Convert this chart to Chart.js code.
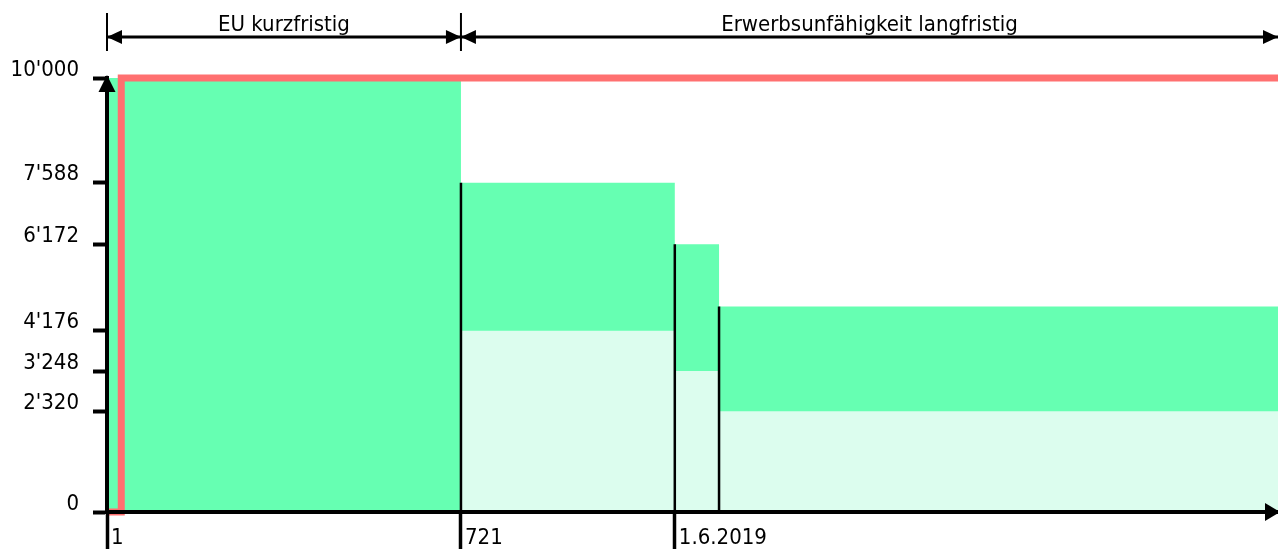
<!DOCTYPE html>
<html>
<head>
<meta charset="utf-8">
<script src="https://cdn.jsdelivr.net/npm/chart.js@4"></script>
<style>
  body { margin: 0; background: #fff; }
  #wrap { width: 1278px; height: 549px; }
</style>
</head>
<body>
<div id="wrap"><canvas id="myChart"></canvas></div>
<script>
'use strict';
// step starts (days) and levels
let stepStart = [1, 721, 1156, 1246];
let xEnd = 2383;
let totalLevel = [10000, 7588, 6172, 4736];
let baseLevel = [0, 4176, 3248, 2320];
let limitStart = 30;
let limitLevel = 10000;

let yTicks = [0, 2320, 3248, 4176, 6172, 7588, 10000];
let xTicks = [1, 721, 1156];
let xTickLabels = ['1', '721', '1.6.2019'];

let spanBounds = [1, 721, xEnd];
let spanLabels = ['EU kurzfristig', 'Erwerbsunfähigkeit langfristig'];

const FONT = "'DejaVu Sans Condensed', 'DejaVu Sans', sans-serif";

function stepPoints(levels) {
  let pts = [];
  for (let i = 0; i < stepStart.length; i++) {
    pts.push({ x: stepStart[i], y: levels[i] });
  }
  pts.push({ x: xEnd, y: levels[levels.length - 1] });
  return pts;
}

let edgePoints = [];
for (let i = 1; i < stepStart.length; i++) {
  edgePoints.push({ x: stepStart[i], y: 0 });
  edgePoints.push({ x: stepStart[i], y: totalLevel[i] });
  edgePoints.push({ x: stepStart[i], y: null });
}

let limitPoints = [
  { x: 1, y: 0 },
  { x: limitStart, y: 0 },
  { x: limitStart, y: limitLevel },
  { x: xEnd, y: limitLevel }
];

function fmt(v) {
  return String(v).replace(/\B(?=(\d{3})+(?!\d))/g, "'");
}

function arrow(ctx, x, y, dir, len, half) {
  ctx.beginPath();
  if (dir === 'left') { ctx.moveTo(x, y); ctx.lineTo(x + len, y - half); ctx.lineTo(x + len, y + half); }
  if (dir === 'right') { ctx.moveTo(x, y); ctx.lineTo(x - len, y - half); ctx.lineTo(x - len, y + half); }
  if (dir === 'up') { ctx.moveTo(x, y); ctx.lineTo(x - half, y + len); ctx.lineTo(x + half, y + len); }
  ctx.closePath();
  ctx.fill();
}

const decorations = {
  id: 'decorations',
  afterDraw(chart) {
    const ctx = chart.ctx;
    const xs = chart.scales.x;
    const area = chart.chartArea;
    ctx.save();
    ctx.fillStyle = '#000';
    ctx.strokeStyle = '#000';
    // axis arrow heads
    arrow(ctx, area.left, area.top - 3, 'up', 17, 8.5);
    arrow(ctx, area.right + 2, area.bottom, 'right', 15, 9);

    // dimension lines on top
    const dimY = 37;
    ctx.lineWidth = 3;
    ctx.beginPath();
    ctx.moveTo(xs.getPixelForValue(spanBounds[0]), dimY);
    ctx.lineTo(xs.getPixelForValue(spanBounds[spanBounds.length - 1]), dimY);
    ctx.stroke();
    ctx.lineWidth = 2;
    for (let i = 0; i < spanBounds.length - 1; i++) {
      let px = xs.getPixelForValue(spanBounds[i]);
      ctx.beginPath();
      ctx.moveTo(px, 13);
      ctx.lineTo(px, 51);
      ctx.stroke();
    }
    ctx.font = '22px ' + FONT;
    ctx.textAlign = 'center';
    ctx.textBaseline = 'alphabetic';
    for (let i = 0; i < spanLabels.length; i++) {
      let a = xs.getPixelForValue(spanBounds[i]);
      let b = xs.getPixelForValue(spanBounds[i + 1]);
      arrow(ctx, a, dimY, 'left', 15, 7);
      arrow(ctx, Math.min(b, area.right + 2), dimY, 'right', 15, 7);
      ctx.fillText(spanLabels[i], (a + b) / 2, 31);
    }
    ctx.restore();
  }
};

Chart.defaults.font.family = FONT;
Chart.defaults.font.size = 22;
Chart.defaults.color = '#000';

const ctx = document.getElementById('myChart').getContext('2d');
const myChart = new Chart(ctx, {
  type: 'line',
  data: {
    datasets: [
      {
        label: 'Grenze',
        data: limitPoints,
        borderColor: 'rgb(255, 112, 112)',
        borderWidth: 7,
        pointRadius: 0,
        fill: false,
        clip: 10,
        order: 0
      },
      {
        label: 'Kanten',
        data: edgePoints,
        borderColor: '#000',
        borderWidth: 2.5,
        pointRadius: 0,
        fill: false,
        spanGaps: false,
        order: 1
      },
      {
        label: 'Basis',
        data: stepPoints(baseLevel),
        stepped: true,
        borderWidth: 0,
        borderColor: 'rgba(0,0,0,0)',
        backgroundColor: 'rgb(220, 253, 238)',
        pointRadius: 0,
        fill: 'origin',
        order: 2
      },
      {
        label: 'Total',
        data: stepPoints(totalLevel),
        stepped: true,
        borderWidth: 0,
        borderColor: 'rgba(0,0,0,0)',
        backgroundColor: 'rgb(102, 255, 178)',
        pointRadius: 0,
        fill: 'origin',
        order: 3
      }
    ]
  },
  options: {
    responsive: true,
    maintainAspectRatio: false,
    animation: false,
    layout: { padding: { top: 78, right: 0, left: 0, bottom: 0 } },
    plugins: {
      legend: { display: false },
      tooltip: { enabled: false }
    },
    scales: {
      x: {
        type: 'linear',
        min: 1,
        max: xEnd,
        afterBuildTicks(scale) {
          scale.ticks = xTicks.map(v => ({ value: v }));
        },
        afterFit(scale) { scale.height = 37; },
        ticks: {
          align: 'start',
          labelOffset: 4,
          padding: -24,
          autoSkip: false,
          maxRotation: 0,
          callback(value) {
            let i = xTicks.indexOf(value);
            return i >= 0 ? xTickLabels[i] : '';
          }
        },
        grid: { drawOnChartArea: false, drawTicks: true, tickLength: 37, tickWidth: 3.5, tickColor: '#000', z: 1 },
        border: { display: true, color: '#000', width: 4, z: 1 }
      },
      y: {
        type: 'linear',
        min: 0,
        max: 10000,
        afterBuildTicks(scale) {
          scale.ticks = yTicks.map(v => ({ value: v }));
        },
        afterFit(scale) { scale.width = 107; },
        ticks: {
          padding: 14,
          labelOffset: -8,
          autoSkip: false,
          callback(value) { return fmt(value); }
        },
        grid: { drawOnChartArea: false, drawTicks: true, tickLength: 14, tickWidth: 4, tickColor: '#000', z: 1 },
        border: { display: true, color: '#000', width: 4, z: 1 }
      }
    }
  },
  plugins: [decorations]
});
</script>
</body>
</html>
